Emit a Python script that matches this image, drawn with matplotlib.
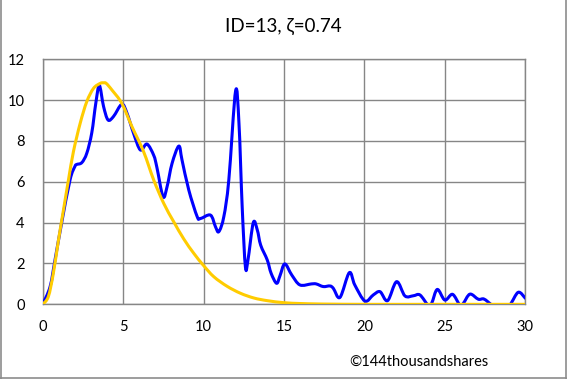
import matplotlib
matplotlib.use("Agg")
import matplotlib.pyplot as plt
from matplotlib.lines import Line2D
from matplotlib.path import Path
from matplotlib.patches import PathPatch

plt.rcParams['font.family'] = ['Lato', 'DejaVu Sans']

# Observed (blue) series
obs_x = [0, 0.46, 0.77, 1.18, 1.7, 2.0, 2.11, 2.43, 2.74, 3.05, 3.3, 3.52, 3.78, 4.06, 4.4, 4.92,
         5.24, 5.65, 6.07, 6.48, 6.9, 7.1, 7.48, 7.73, 8.04, 8.46, 8.66, 9.08, 9.6, 9.8, 10.43,
         10.74, 10.95, 11.26, 11.57, 11.99, 12.2, 12.4, 12.6, 12.76, 13.09, 13.34, 13.55, 13.96,
         14.2, 14.54, 14.75, 15.05, 15.48, 15.99, 16.7, 17.0, 17.44, 17.86, 18.07, 18.48, 19.06,
         19.4, 20.03, 20.55, 20.97, 21.44, 22.0, 22.52, 23.04, 23.45, 23.97, 24.18, 24.53, 25.0,
         25.48, 25.94, 26.15, 26.56, 27.08, 27.43, 27.9, 28.5, 29.05, 29.56, 30.0]
obs_y = [0, 0.87, 2.2, 4.0, 6.1, 6.75, 6.85, 6.94, 7.4, 8.4, 9.85, 10.72, 9.7, 9.03, 9.2, 9.8,
         9.36, 8.37, 7.56, 7.85, 7.3, 6.7, 5.27, 5.76, 6.9, 7.75, 7.07, 5.6, 4.3, 4.2, 4.37,
         3.8, 3.56, 4.3, 6.1, 10.45, 8.87, 4.78, 1.84, 2.17, 4.0, 3.64, 2.9, 2.17,
         1.52, 1.03, 1.4, 1.98, 1.44, 0.95, 1.0, 1.0, 0.87, 0.9, 0.78, 0.34, 1.55,
         0.95, 0.16, 0.46, 0.62, 0.18, 1.11, 0.41, 0.42, 0.46, -0.05, 0.05, 0.73, 0.21,
         0.49, -0.05, 0.05, 0.5, 0.25, 0.26, -0.02, -0.35, -0.02, 0.59, 0.3]

# Fitted (gold) series
fit_x = [0, 0.35, 0.66, 0.98, 1.29, 1.6, 1.91, 2.33, 2.74, 3.16, 3.57, 3.77, 3.95, 4.3, 4.92,
         5.55, 6.27, 6.9, 7.52, 8.14, 8.77, 9.39, 10.0, 10.64, 11.47, 12.3, 13.13, 13.96, 15.0,
         16.0, 17.0, 18.0, 20.0, 25.0, 30.0]
fit_y = [0, 0.38, 1.52, 3.15, 4.62, 6.09, 7.48, 8.87, 9.93, 10.58, 10.82, 10.85, 10.82, 10.5, 9.84,
         8.7, 7.48, 6.09, 4.95, 4.05, 3.2, 2.5, 1.9, 1.35, 0.88, 0.54, 0.31, 0.18, 0.08,
         0.04, 0.02, 0.01, 0.0, 0.0, 0.0]

title = "ID=13, \u03b6=0.74"
credit = "\u00a9144thousandshares"
x_ticks = [0, 5, 10, 15, 20, 25, 30]
y_ticks = [0, 2, 4, 6, 8, 10, 12]


def smooth_path(xs, ys):
    """Excel-like smoothed line: cubic Bezier segments through the given points."""
    pts = list(zip(xs, ys))
    n = len(pts)
    verts = [pts[0]]
    codes = [Path.MOVETO]
    for i in range(n - 1):
        p0 = pts[i - 1] if i > 0 else pts[i]
        p1 = pts[i]
        p2 = pts[i + 1]
        p3 = pts[i + 2] if i + 2 < n else pts[i + 1]
        c1 = (p1[0] + (p2[0] - p0[0]) / 6.0, p1[1] + (p2[1] - p0[1]) / 6.0)
        c2 = (p2[0] - (p3[0] - p1[0]) / 6.0, p2[1] - (p3[1] - p1[1]) / 6.0)
        verts += [c1, c2, p2]
        codes += [Path.CURVE4] * 3
    return Path(verts, codes)


fig = plt.figure(figsize=(5.68, 3.79), dpi=100)
ax = fig.add_axes([0.0752, 0.197, 0.8496, 0.6465])

ax.add_patch(PathPatch(smooth_path(obs_x, obs_y), facecolor='none', edgecolor='#0000FF',
                       lw=2.2, joinstyle='round', capstyle='round', zorder=3))
ax.add_patch(PathPatch(smooth_path(fit_x, fit_y), facecolor='none', edgecolor='#FFCC00',
                       lw=2.2, joinstyle='round', capstyle='round', zorder=4))

ax.set_xlim(0, 30)
ax.set_ylim(0, 12)
ax.set_xticks(x_ticks)
ax.set_yticks(y_ticks)
ax.grid(True, color='#868686', lw=1.0, zorder=1)
ax.set_axisbelow(True)
for s in ax.spines.values():
    s.set_color('#868686')
    s.set_linewidth(1.0)
ax.tick_params(length=0, labelsize=10.5, colors='black', pad=11)
ax.tick_params(axis='y', pad=13)

fig.text(0.498, 0.931, title, ha='center', va='center', fontsize=13.5, color='black')
fig.text(0.86, 0.045, credit, ha='right', va='center', fontsize=10.5, color='black')

# chart-area border (left, right, bottom)
fig.add_artist(Line2D([0.001, 0.001], [0.0, 1.0], transform=fig.transFigure, color='#8c8c8c', lw=1.2))
fig.add_artist(Line2D([0.9965, 0.9965], [0.0, 1.0], transform=fig.transFigure, color='#8c8c8c', lw=1.2))
fig.add_artist(Line2D([0.0, 0.9965], [0.002, 0.002], transform=fig.transFigure, color='#8c8c8c', lw=1.2))

fig.savefig('out.png', dpi=100, facecolor='white')
